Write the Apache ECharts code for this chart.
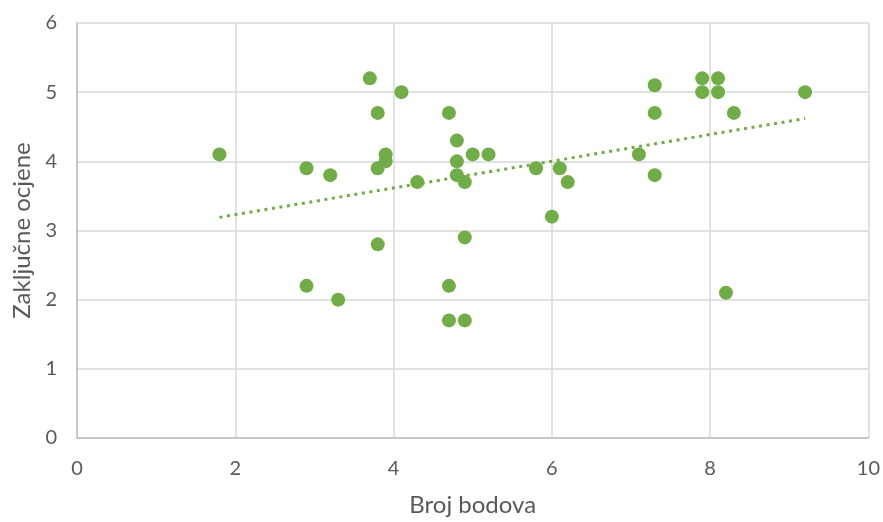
<!DOCTYPE html>
<html>
<head>
<meta charset="utf-8">
<script src="https://cdn.jsdelivr.net/npm/echarts@6/dist/echarts.min.js"></script>
<style>html,body{margin:0;padding:0;background:#fff}#c{width:883px;height:522px}</style>
</head>
<body>
<div id="c"></div>
<script>
const xTicks = [0, 2, 4, 6, 8, 10];
const yTicks = [0, 1, 2, 3, 4, 5, 6];
const bodovi = [1.8, 2.9, 2.9, 3.2, 3.3, 3.7, 3.8, 3.8, 3.8, 3.9, 3.9, 4.1, 4.3, 4.7, 4.7, 4.7, 4.8, 4.8, 4.8, 4.9, 4.9, 4.9, 5.0, 5.2, 5.8, 6.0, 6.1, 6.2, 7.1, 7.3, 7.3, 7.3, 7.9, 8.1, 7.9, 8.1, 8.3, 8.2, 9.2];
const ocjene = [4.1, 3.9, 2.2, 3.8, 2.0, 5.2, 4.7, 3.9, 2.8, 4.1, 4.0, 5.0, 3.7, 4.7, 2.2, 1.7, 4.3, 4.0, 3.8, 3.7, 2.9, 1.7, 4.1, 4.1, 3.9, 3.2, 3.9, 3.7, 4.1, 5.1, 4.7, 3.8, 5.2, 5.2, 5.0, 5.0, 4.7, 2.1, 5.0];
const trendX = [1.8, 9.2];
const trendY = [3.19, 4.62];

const points = bodovi.map((x, i) => [x, ocjene[i]]);
const trend = trendX.map((x, i) => [x, trendY[i]]);

const FONT = 'Lato, "Open Sans", sans-serif';
const chart = echarts.init(document.getElementById('c'), null, {renderer: 'canvas'});
chart.setOption({
  animation: false,
  backgroundColor: '#fff',
  grid: {left: 77, right: 14, top: 23, bottom: 80},
  xAxis: {
    type: 'value', min: xTicks[0], max: xTicks[xTicks.length - 1], interval: 2,
    name: 'Broj bodova', nameLocation: 'middle', nameGap: 55,
    nameTextStyle: {color: '#595959', fontSize: 24, fontFamily: FONT},
    axisLine: {show: true, lineStyle: {color: '#bfbfbf', width: 1.5}},
    axisTick: {show: false},
    axisLabel: {color: '#595959', fontSize: 20, fontFamily: FONT, margin: 21},
    splitLine: {show: true, lineStyle: {color: '#d9d9d9', width: 1.5}}
  },
  yAxis: {
    type: 'value', min: yTicks[0], max: yTicks[yTicks.length - 1], interval: 1,
    name: 'Zaključne ocjene', nameLocation: 'middle', nameGap: 43,
    nameTextStyle: {color: '#595959', fontSize: 24, fontFamily: FONT},
    axisLine: {show: true, lineStyle: {color: '#bfbfbf', width: 1.5}},
    axisTick: {show: false},
    axisLabel: {color: '#595959', fontSize: 20, fontFamily: FONT, margin: 20},
    splitLine: {show: true, lineStyle: {color: '#d9d9d9', width: 1.5}}
  },
  series: [
    {
      type: 'line', data: trend, showSymbol: false, symbol: 'none', z: 1,
      lineStyle: {color: '#70AD47', width: 3, type: [3, 4.6], cap: 'butt'}
    },
    {
      type: 'scatter', data: points, symbolSize: 14, z: 2,
      itemStyle: {color: '#70AD47', opacity: 1}
    }
  ]
});
</script>
</body>
</html>
